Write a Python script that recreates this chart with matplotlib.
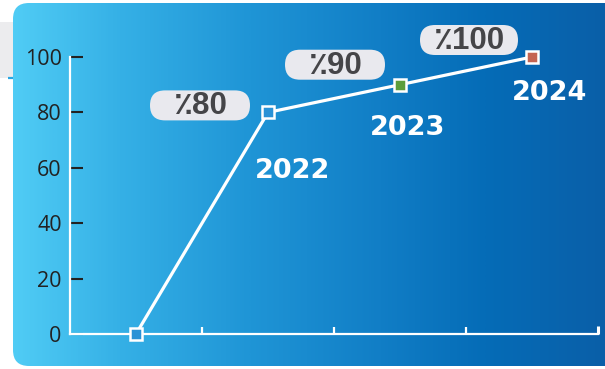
import numpy as np
import matplotlib
matplotlib.use("Agg")
import matplotlib.pyplot as plt
from matplotlib.patches import FancyBboxPatch, Rectangle
from matplotlib.colors import LinearSegmentedColormap
from matplotlib.transforms import Affine2D, ScaledTranslation

W, H, DPI = 605, 369, 100

# ---- data ----
positions = [0, 1, 2, 3]
values = [0, 80, 90, 100]
year_labels = ["", "2022", "2023", "2024"]
percent_labels = ["", "٪80", "٪90", "٪100"]
marker_colors = ["#2a92d6", "#2a92d6", "#5c9e3c", "#c46452"]
y_ticks = [0, 20, 40, 60, 80, 100]

# label placement (pixel offsets from each point, y up)
year_offsets = [(0, 0), (25, -59), (8, -43), (18, -36)]
pill_offsets = [(0, 0), (-68, 7), (-65, 20), (-63, 17)]
pill_widths = [0, 100, 100, 98]
PILL_H = 30

fig = plt.figure(figsize=(W / DPI, H / DPI), dpi=DPI)
fig.patch.set_facecolor("white")

# ---- background layer in pixel units (origin top-left) ----
bg = fig.add_axes([0, 0, 1, 1])
bg.set_xlim(0, W)
bg.set_ylim(H, 0)
bg.axis("off")

bg.add_patch(Rectangle((0, 22), 40, 56, fc="#ececee", ec="none", zorder=0))
bg.plot([8, 40], [78, 78], color="#29a6e2", lw=1.6, solid_capstyle="butt", zorder=0.5)

panel = FancyBboxPatch((13, 3), 660, 363, boxstyle="round,pad=0,rounding_size=16",
                       fc="none", ec="none", zorder=1)
bg.add_patch(panel)
grad_cmap = LinearSegmentedColormap.from_list(
    "panel",
    [(0.0, "#50ccf5"), (0.18, "#35b0e6"), (0.40, "#1f95d6"),
     (0.62, "#117ec6"), (0.80, "#056cb7"), (1.0, "#0a5fa8")])
grad = np.linspace(0, 1, 600).reshape(1, -1)
img = bg.imshow(grad, cmap=grad_cmap, aspect="auto", extent=(13, 605, 366, 3),
                interpolation="bilinear", zorder=2)
img.set_clip_path(panel)

# ---- main chart ----
ax = fig.add_axes([70 / W, (H - 334) / H, 528 / W, 277 / H])
ax.set_facecolor("none")
ax.set_xlim(-0.5, 3.5)
ax.set_ylim(0, 100)

for side in ("top", "right"):
    ax.spines[side].set_visible(False)
for side in ("left", "bottom"):
    ax.spines[side].set_color("white")
    ax.spines[side].set_linewidth(1.6)

ax.set_yticks(y_ticks)
ax.tick_params(axis="y", direction="in", length=9.5, width=1.5, color="#222222",
               labelcolor="#222222", labelsize=15.5, pad=6)
for lbl in ax.get_yticklabels():
    lbl.set_fontfamily("Open Sans")

ax.set_xticks([0.5, 1.5, 2.5, 3.5])
ax.set_xticklabels([])
ax.tick_params(axis="x", direction="in", length=5, width=1.6, color="white")
last_tick = ax.xaxis.get_major_ticks()[-1]
last_tick.tick1line.set_color("#222222")
last_tick.tick1line.set_markersize(6)
last_tick.tick1line.set_markeredgewidth(2.2)

ax.plot(positions, values, color="white", lw=2.3, zorder=3, clip_on=False)
for x, y, c in zip(positions, values, marker_colors):
    ax.plot([x], [y], marker="s", ms=8.6, mfc=c, mec="white", mew=1.8,
            zorder=4, clip_on=False)

for x, y, lab, (dx, dy) in zip(positions, values, year_labels, year_offsets):
    if lab:
        ax.annotate(lab, (x, y), xytext=(dx, dy), textcoords="offset pixels",
                    ha="center", va="center", color="white", fontsize=19.5,
                    fontweight="bold", family="DejaVu Sans",
                    annotation_clip=False, zorder=6)

for x, y, lab, (dx, dy), w in zip(positions, values, percent_labels,
                                  pill_offsets, pill_widths):
    if not lab:
        continue
    trans = Affine2D().translate(dx, dy) + ScaledTranslation(x, y, ax.transData)
    pill = FancyBboxPatch((-w / 2, -PILL_H / 2), w, PILL_H,
                          boxstyle="round,pad=0,rounding_size=15",
                          fc="#e9e9ee", ec="none", transform=trans,
                          clip_on=False, zorder=6)
    ax.add_artist(pill)
    ax.annotate(lab, (x, y), xytext=(dx, dy - 1), textcoords="offset pixels",
                ha="center", va="center", color="#454548", fontsize=22.5,
                fontweight="bold", family=["Liberation Sans", "DejaVu Sans"],
                annotation_clip=False, zorder=7)

fig.savefig("out.png", dpi=DPI)
